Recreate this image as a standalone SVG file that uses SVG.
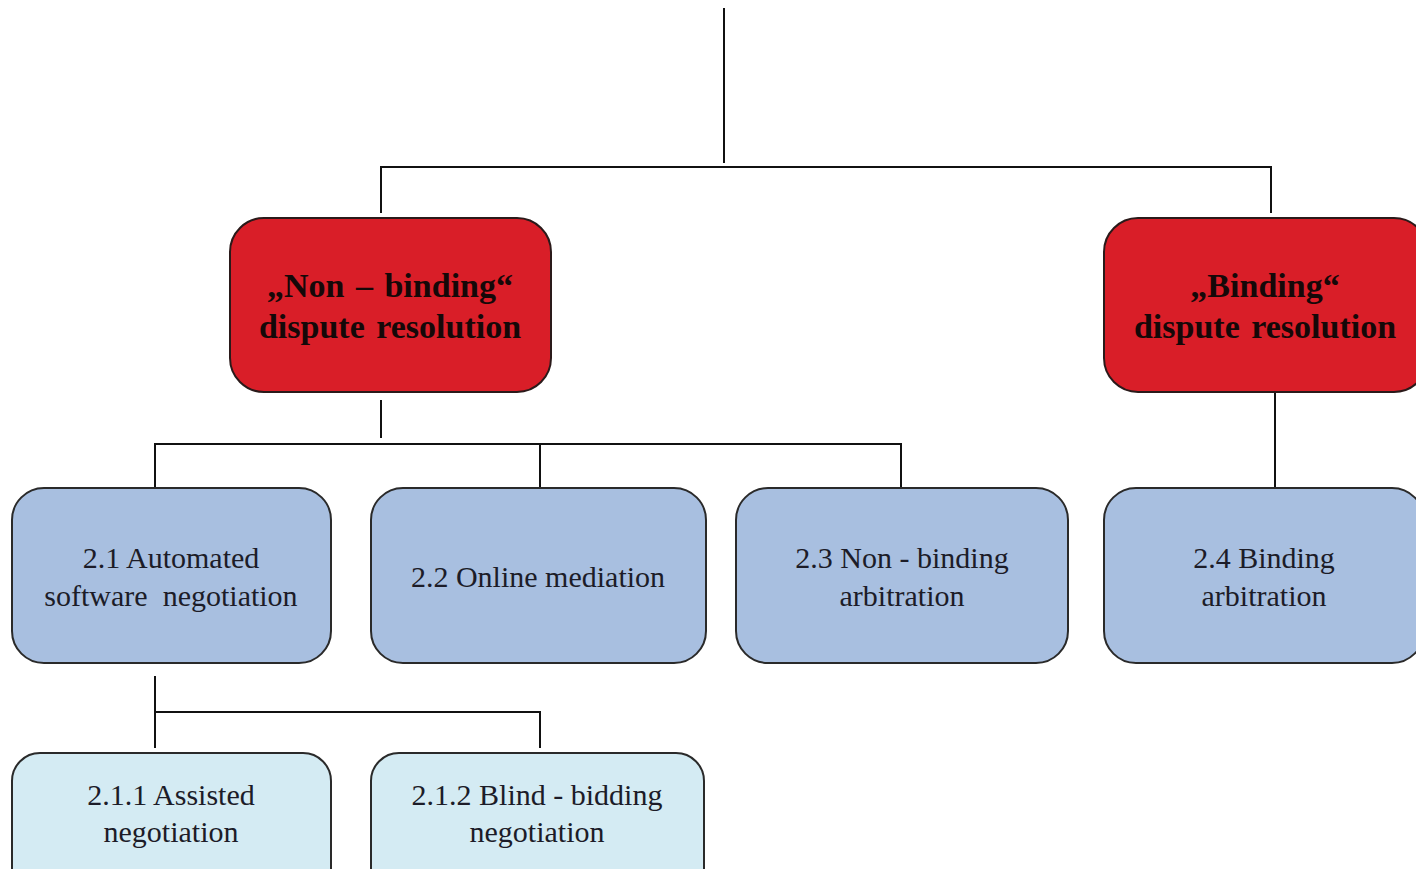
<svg xmlns="http://www.w3.org/2000/svg" width="1416" height="869" viewBox="0 0 1416 869">
<style>
.red{fill:#d91e28;stroke:#2a1a1a;stroke-width:2}
.blue{fill:#a8bfe0;stroke:#2a2a2a;stroke-width:2}
.lblue{fill:#d4ebf3;stroke:#2a2a2a;stroke-width:2}
.t1{font-family:'Liberation Serif',serif;font-weight:700;font-size:34px;fill:#150808;text-anchor:middle;word-spacing:3px}
.t2{font-family:'Liberation Serif',serif;font-weight:400;font-style:normal;font-size:30px;fill:#1c1c28;text-anchor:middle}
.c{stroke:#111;stroke-width:2;fill:none}
</style>
<rect width="1416" height="869" fill="#fff"/>
<g id="connectors">
<path class="c" d="M724 8V163"/>
<path class="c" d="M381 213V167H1271V213"/>
<path class="c" d="M381 400V438"/>
<path class="c" d="M155 488V444H901V488"/>
<path class="c" d="M540 444V488"/>
<path class="c" d="M1275 392V488"/>
<path class="c" d="M155 676V712"/>
<path class="c" d="M155 748V712H540V748"/>
</g>
<g id="n1">
<rect class="red" x="230" y="218" width="321" height="174" rx="34"/>
<text class="t1" x="390" y="297">„Non – binding“</text>
<text class="t1" x="390" y="338">dispute resolution</text>
</g>
<g id="n2">
<rect class="red" x="1104" y="218" width="324" height="174" rx="34"/>
<text class="t1" x="1265" y="297">„Binding“</text>
<text class="t1" x="1265" y="338">dispute resolution</text>
</g>
<g id="n21">
<rect class="blue" x="12" y="488" width="319" height="175" rx="32"/>
<text class="t2" x="171" y="568" font-family="Liberation Serif, serif">2.1 Automated</text>
<text class="t2" x="171" y="606" font-family="Liberation Serif, serif" xml:space="preserve">software  negotiation</text>
</g>
<g id="n22">
<rect class="blue" x="371" y="488" width="335" height="175" rx="32"/>
<text class="t2" x="538" y="587" font-family="Liberation Serif, serif">2.2 Online mediation</text>
</g>
<g id="n23">
<rect class="blue" x="736" y="488" width="332" height="175" rx="32"/>
<text class="t2" x="902" y="568" font-family="Liberation Serif, serif">2.3 Non - binding</text>
<text class="t2" x="902" y="606" font-family="Liberation Serif, serif">arbitration</text>
</g>
<g id="n24">
<rect class="blue" x="1104" y="488" width="320" height="175" rx="32"/>
<text class="t2" x="1264" y="568" font-family="Liberation Serif, serif">2.4 Binding</text>
<text class="t2" x="1264" y="606" font-family="Liberation Serif, serif">arbitration</text>
</g>
<g id="n211">
<rect class="lblue" x="12" y="753" width="319" height="150" rx="28"/>
<text class="t2" x="171" y="805" font-family="Liberation Serif, serif">2.1.1 Assisted</text>
<text class="t2" x="171" y="842" font-family="Liberation Serif, serif">negotiation</text>
</g>
<g id="n212">
<rect class="lblue" x="371" y="753" width="333" height="150" rx="28"/>
<text class="t2" x="537" y="805" font-family="Liberation Serif, serif">2.1.2 Blind - bidding</text>
<text class="t2" x="537" y="842" font-family="Liberation Serif, serif">negotiation</text>
</g>
</svg>
